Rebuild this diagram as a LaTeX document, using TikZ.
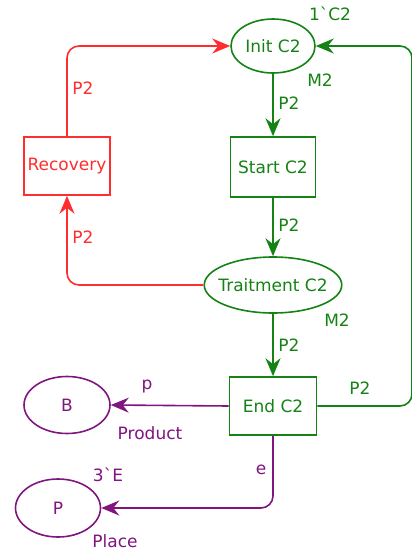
\documentclass[tikz,border=0pt]{standalone}
\usepackage{fontspec}
\setmainfont{DejaVu Sans}
\usetikzlibrary{shapes.geometric,arrows.meta}
\definecolor{cpngreen}{RGB}{20,130,20}
\definecolor{cpnred}{RGB}{255,45,45}
\definecolor{cpnpurple}{RGB}{128,20,128}
\begin{document}
\begin{tikzpicture}[x=1pt,y=-1pt,
    font=\fontsize{17}{20}\selectfont,
    place/.style={ellipse,draw,inner sep=0pt,line width=1.6pt},
    trans/.style={rectangle,draw,inner sep=0pt,line width=1.6pt},
    arc/.style={line width=1.6pt,rounded corners=12pt,-{Stealth[length=18pt,width=15pt,inset=6pt]}},
    lbl/.style={inner sep=0pt}]
        \useasboundingbox (0,0) rectangle (412,552);
        % places and transitions
        \node[place,cpngreen,minimum width=84pt,minimum height=54pt] (init) at (273,46) {Init C2};
        \node[trans,cpngreen,minimum width=85pt,minimum height=60pt] (start) at (273,167) {Start C2};
        \node[place,cpngreen,inner xsep=-6pt,minimum width=137pt,minimum height=56pt] (trait) at (273,285) {Traitment C2};
        \node[trans,cpngreen,minimum width=87pt,minimum height=58pt] (end) at (273,406) {End C2};
        \node[trans,cpnred,minimum width=86pt,minimum height=58pt] (rec) at (67,166) {Recovery};
        \node[place,cpnpurple,minimum width=86pt,minimum height=57pt] (b) at (67,405) {B};
        \node[place,cpnpurple,minimum width=85pt,minimum height=58pt] (p) at (58,508) {P};
        \coordinate (rgt) at (412,220);
        % arcs
        \draw[arc,cpngreen] (init) -- (start);
        \draw[arc,cpngreen] (start) -- (trait);
        \draw[arc,cpngreen] (trait) -- (end);
        \draw[arc,cpngreen] (end.east) -| (rgt) |- (init.east);
        \draw[arc,cpnred] (trait.west) -| (rec.south);
        \draw[arc,cpnred] (rec.north) |- (init.west);
        \draw[arc,cpnpurple] (end.west) -- (b.east);
        \draw[arc,cpnpurple] (end.south) |- (p.east);
        % inscriptions
        \node[lbl,cpngreen] (initmark) at (330,14) {1\textasciigrave C2};
        \node[lbl,cpngreen] (initcol) at (320,80) {M2};
        \node[lbl,cpngreen] (a1) at (289,103) {P2};
        \node[lbl,cpngreen] (a2) at (289,225) {P2};
        \node[lbl,cpngreen] (traitcol) at (337,320) {M2};
        \node[lbl,cpngreen] (a3) at (289,345) {P2};
        \node[lbl,cpngreen] (a4) at (360,388) {P2};
        \node[lbl,cpnred] (r1) at (83,88) {P2};
        \node[lbl,cpnred] (r2) at (83,237) {P2};
        \node[lbl,cpnpurple] (a5) at (147,387) {p};
        \node[lbl,cpnpurple] (bcol) at (150,433) {Product};
        \node[lbl,cpnpurple] (a6) at (261,470) {e};
        \node[lbl,cpnpurple] (pmark) at (108,475) {3\textasciigrave E};
        \node[lbl,cpnpurple] (pcol) at (115,541) {Place};
\end{tikzpicture}
\end{document}
